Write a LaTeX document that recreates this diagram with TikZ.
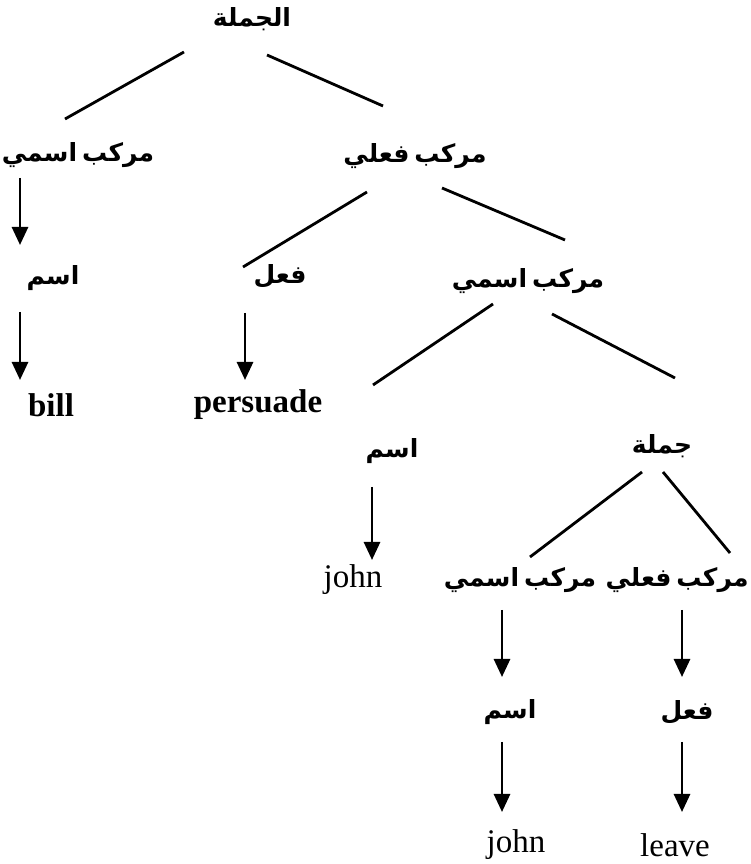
\documentclass[tikz,border=0pt]{standalone}
\usepackage{fontspec}
\setmainfont{Liberation Serif}
\newfontfamily\arabicfont[Script=Arabic]{DejaVu Sans Bold}
\TeXXeTstate=1
\usetikzlibrary{arrows.meta}
\begin{document}
\begin{tikzpicture}[x=1pt,y=1pt,
  ar/.style={inner sep=0pt,font=\arabicfont\fontsize{25}{28}\selectfont,
    execute at begin node={\spaceskip=5pt\relax}},
  lat/.style={inner sep=0pt,font=\fontsize{33}{38}\selectfont},
  latb/.style={inner sep=0pt,font=\bfseries\fontsize{33}{38}\selectfont},
  ln/.style={line width=2.8pt},
  arr/.style={line width=2.8pt,-{Triangle[width=16pt,length=18pt]}}]
\useasboundingbox (0,0) rectangle (750,864);
\node[ar] (root) at (252,845) {\beginR الجملة\endR};
\node[ar] (np1) at (78,709) {\beginR مركب اسمي\endR};
\node[ar] (vp1) at (415,708) {\beginR مركب فعلي\endR};
\node[ar] (n1) at (53,586) {\beginR اسم\endR};
\node[ar] (v1) at (280,588) {\beginR فعل\endR};
\node[ar] (np2) at (528,583) {\beginR مركب اسمي\endR};
\node[latb] (bill) at (51,459) {bill};
\node[latb] (persuade) at (258,459) {persuade};
\node[ar] (n2) at (392,413) {\beginR اسم\endR};
\node[ar] (s2) at (662,418) {\beginR جملة\endR};
\node[lat] (john1) at (353,284) {john};
\node[ar] (np3) at (520,284) {\beginR مركب اسمي\endR};
\node[ar] (vp3) at (677,284) {\beginR مركب فعلي\endR};
\node[ar] (n3) at (510,152) {\beginR اسم\endR};
\node[ar] (v3) at (687,152) {\beginR فعل\endR};
\node[lat] (john2) at (516,19) {john};
\node[lat] (leave) at (675,19) {leave};
\draw[ln] ([shift={(-68,-33)}]root.center) -- ([shift={(-13,36)}]np1.center);
\draw[ln] ([shift={(15,-36)}]root.center) -- ([shift={(-32,50)}]vp1.center);
\draw[arr] ([shift={(-58,-23)}]np1.center) -- ([shift={(-33,33)}]n1.center);
\draw[arr] ([shift={(-33,-34)}]n1.center) -- ([shift={(-31,25)}]bill.center);
\draw[ln] ([shift={(-48,-36)}]vp1.center) -- ([shift={(-37,9)}]v1.center);
\draw[ln] ([shift={(27,-32)}]vp1.center) -- ([shift={(37,41)}]np2.center);
\draw[arr] ([shift={(-35,-37)}]v1.center) -- ([shift={(-13,25)}]persuade.center);
\draw[ln] ([shift={(-35,-23)}]np2.center) -- ([shift={(-19,66)}]n2.center);
\draw[ln] ([shift={(24,-33)}]np2.center) -- ([shift={(13,68)}]s2.center);
\draw[arr] ([shift={(-20,-36)}]n2.center) -- ([shift={(19,20)}]john1.center);
\draw[ln] ([shift={(-20,-26)}]s2.center) -- ([shift={(10,23)}]np3.center);
\draw[ln] ([shift={(1,-26)}]s2.center) -- ([shift={(53,27)}]vp3.center);
\draw[arr] ([shift={(-18,-30)}]np3.center) -- ([shift={(-8,35)}]n3.center);
\draw[arr] ([shift={(5,-30)}]vp3.center) -- ([shift={(-5,35)}]v3.center);
\draw[arr] ([shift={(-8,-30)}]n3.center) -- ([shift={(-14,33)}]john2.center);
\draw[arr] ([shift={(-5,-30)}]v3.center) -- ([shift={(7,33)}]leave.center);
\end{tikzpicture}
\end{document}
